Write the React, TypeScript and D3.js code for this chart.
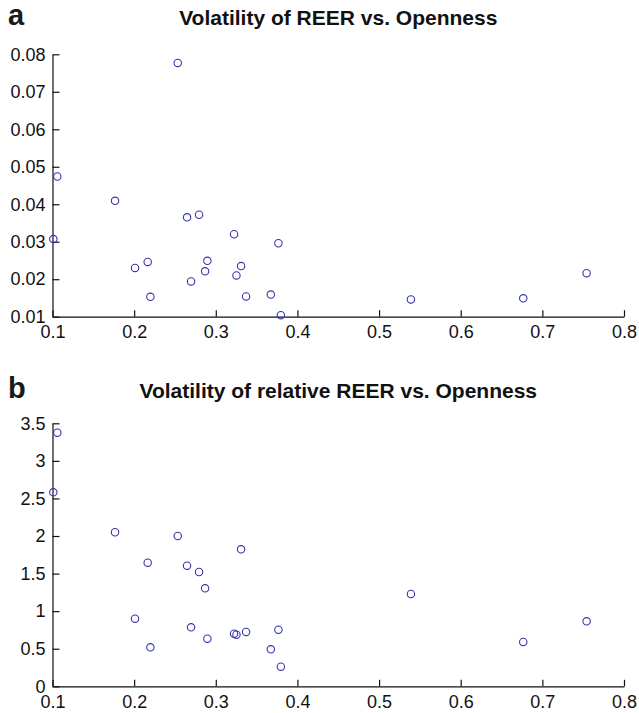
import React, { useRef, useEffect } from "react";
import * as d3 from "d3";

// openness (shared x values for both panels)
const openness = [
  0.1059, 0.1766, 0.101, 0.2648, 0.2795, 0.3224, 0.3767, 0.2011, 0.2166, 0.2897, 0.2869,
  0.331, 0.3253, 0.2697, 0.2199, 0.3371, 0.3674, 0.3797, 0.2534, 0.539, 0.6766, 0.7542
];

// panel a: volatility of REER
const reerVol = [
  0.0474, 0.0409, 0.0307, 0.0365, 0.0372, 0.032, 0.0296, 0.023, 0.0246, 0.0249, 0.0221,
  0.0235, 0.021, 0.0194, 0.0153, 0.0154, 0.0159, 0.0104, 0.0777, 0.0146, 0.0149, 0.0216
];

// panel b: volatility of relative REER
const relVol = [
  3.375, 2.05, 2.582, 1.605, 1.521, 0.7, 0.753, 0.9, 1.645, 0.634, 1.304,
  1.823, 0.687, 0.785, 0.519, 0.723, 0.492, 0.261, 2.0, 1.228, 0.59, 0.865
];

const xTicks = [0.1, 0.2, 0.3, 0.4, 0.5, 0.6, 0.7, 0.8];
const yTicksA = [0.01, 0.02, 0.03, 0.04, 0.05, 0.06, 0.07, 0.08];
const yTicksB = [0, 0.5, 1, 1.5, 2, 2.5, 3, 3.5];

const titleA = "Volatility of REER vs. Openness";
const titleB = "Volatility of relative REER vs. Openness";

const W = 639;
const H = 713;
const FONT = "'Liberation Sans', Arial, Helvetica, sans-serif";
const MARK = "#3434ac";

export default function App() {
  const svgRef = useRef<SVGSVGElement>(null);

  useEffect(() => {
    const svg = d3.select(svgRef.current);
    svg.selectAll("*").remove();

    const x = d3.scaleLinear().domain([0.1, 0.8]).range([52.5, 624]);

    const panel = (
      letter: string,
      title: string,
      ys: number[],
      yDomain: [number, number],
      yRange: [number, number],
      yTicks: number[],
      titleY: number
    ) => {
      const y = d3.scaleLinear().domain(yDomain).range(yRange);
      const g = svg.append("g");

      g.append("text")
        .attr("x", 8)
        .attr("y", titleY)
        .style("font-family", FONT)
        .style("font-weight", "bold")
        .style("font-size", "29px")
        .style("fill", "#1a1a1a")
        .text(letter);

      g.append("text")
        .attr("x", (x.range()[0] + x.range()[1]) / 2)
        .attr("y", titleY)
        .attr("text-anchor", "middle")
        .style("font-family", FONT)
        .style("font-weight", "bold")
        .style("font-size", "21px")
        .style("fill", "#111")
        .text(title);

      const xAxis = d3.axisBottom(x)
        .tickValues(xTicks)
        .tickSizeInner(-6.5)
        .tickSizeOuter(0)
        .tickPadding(9)
        .tickFormat(d => String(d));

      const gx = g.append("g")
        .attr("transform", `translate(0,${yRange[0]})`)
        .call(xAxis);

      const yAxis = d3.axisLeft(y)
        .tickValues(yTicks)
        .tickSizeInner(-7)
        .tickSizeOuter(0)
        .tickPadding(7)
        .tickFormat(d => String(d));

      const gy = g.append("g")
        .attr("transform", `translate(${x.range()[0]},0)`)
        .call(yAxis);

      [gx, gy].forEach(a => {
        a.selectAll("path").attr("stroke", "#111").attr("stroke-width", 1.2);
        a.selectAll("line").attr("stroke", "#111").attr("stroke-width", 1.2);
        a.selectAll("text")
          .style("font-family", FONT)
          .style("font-size", "18px")
          .style("fill", "#111");
      });
      gx.selectAll("text").attr("y", 9).attr("dy", "0.71em");

      g.selectAll("circle")
        .data(openness.map((o, i) => ({ o, v: ys[i] })))
        .join("circle")
        .attr("cx", d => x(d.o))
        .attr("cy", d => y(d.v))
        .attr("r", 3.7)
        .attr("fill", "none")
        .attr("stroke", MARK)
        .attr("stroke-width", 1.1);
    };

    panel("a", titleA, reerVol, [0.01, 0.08], [316.7, 54.3], yTicksA, 25);
    panel("b", titleB, relVol, [0, 3.5], [686.3, 423.3], yTicksB, 398);
  }, []);

  return (
    <div style={{ position: "absolute", left: 0, top: 0, background: "#fff" }}>
      <svg ref={svgRef} width={W} height={H} viewBox={`0 0 ${W} ${H}`} />
    </div>
  );
}
